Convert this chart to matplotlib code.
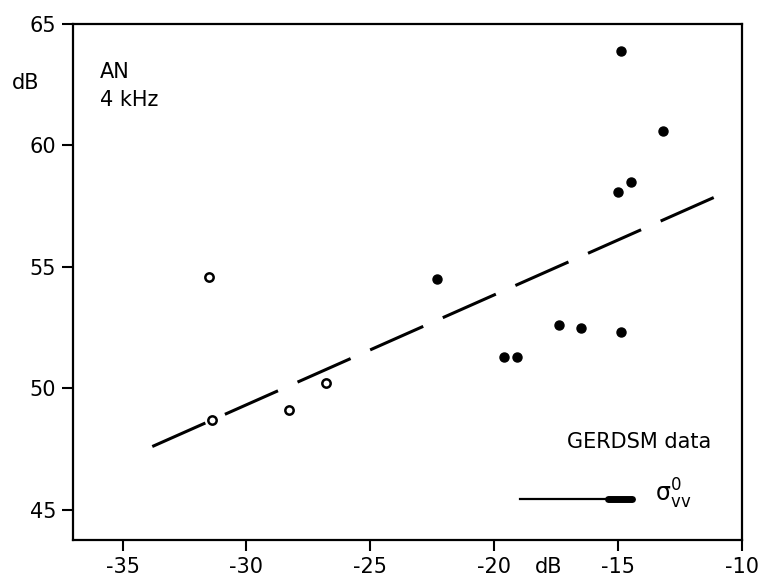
import matplotlib.pyplot as plt

# open circles and filled dots, sigma0_vv (dB) vs level (dB)
open_x = [-31.5, -31.4, -28.3, -26.8]
open_y = [54.6, 48.7, 49.1, 50.2]
filled_x = [-22.3, -19.6, -19.1, -17.4, -16.5, -15.0, -14.9, -14.5, -14.9, -13.2]
filled_y = [54.5, 51.3, 51.3, 52.6, 52.5, 58.1, 52.3, 58.5, 63.9, 60.6]
fit_x = [-33.8, -10.6]
fit_y = [47.6, 58.1]
xticks = [-35, -30, -25, -20, -15, -10]
yticks = [45, 50, 55, 60, 65]

plt.rcParams['font.family'] = 'DejaVu Sans'
plt.rcParams['mathtext.default'] = 'regular'
fig = plt.figure(figsize=(7.58, 5.85), dpi=100)
ax = fig.add_axes([0.0963, 0.0769, 0.8826, 0.882])

ax.plot(fit_x, fit_y, color='black', lw=2.2, dashes=(19, 7))
ax.plot(open_x, open_y, 'o', mfc='white', mec='black', mew=1.8, ms=6)
ax.plot(filled_x, filled_y, 'o', color='black', ms=6.5)

ax.set_xlim(-37, -10)
ax.set_ylim(43.75, 65)
ax.set_xticks(xticks)
ax.set_yticks(yticks)
ax.set_xticklabels([str(t) for t in xticks])
ax.tick_params(direction='out', length=8, width=1.5, labelsize=15, pad=4)
for s in ax.spines.values():
    s.set_linewidth(1.6)

ax.text(0.04, 0.926, 'AN', transform=ax.transAxes, fontsize=15, va='top')
ax.text(0.04, 0.872, '4 kHz', transform=ax.transAxes, fontsize=15, va='top')
ax.text(-0.05, 0.886, 'dB', transform=ax.transAxes, fontsize=15, ha='right', va='center')
ax.text(-17.8, -0.032, 'dB', transform=ax.get_xaxis_transform(), fontsize=15, ha='center', va='top')
ax.text(0.738, 0.19, 'GERDSM data', transform=ax.transAxes, fontsize=15, va='center')

# arrow: thin shaft, thick head
ax.plot([0.668, 0.80], [0.079, 0.079], transform=ax.transAxes, color='black', lw=1.6)
ax.plot([0.80, 0.835], [0.079, 0.079], transform=ax.transAxes, color='black', lw=5,
        solid_capstyle='round')
ax.text(0.87, 0.09, r'$\sigma^{0}_{vv}$', transform=ax.transAxes, fontsize=17, va='center')

fig.savefig('out.png', dpi=100)
